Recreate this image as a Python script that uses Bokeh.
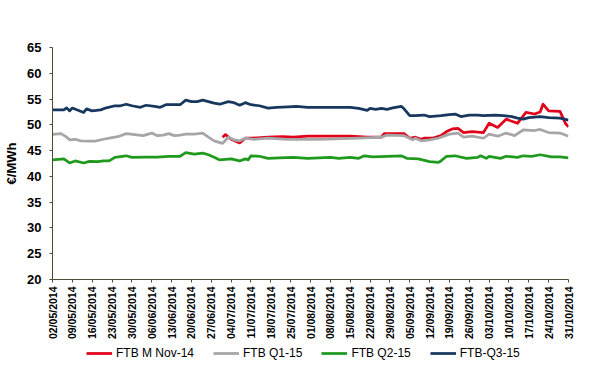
import math
from bokeh.plotting import figure
from bokeh.layouts import column
from bokeh.models import FixedTicker, Legend, LegendItem, Range1d
from bokeh.embed import file_html
from bokeh.resources import INLINE

# x values are days since 02/05/2014
tick_days = [0, 7, 14, 21, 28, 35, 42, 49, 56, 63, 70, 77, 84, 91, 98, 105, 112,
             119, 126, 133, 140, 147, 154, 161, 168, 175, 182]
tick_labels = ["02/05/2014", "09/05/2014", "16/05/2014", "23/05/2014", "30/05/2014",
               "06/06/2014", "13/06/2014", "20/06/2014", "27/06/2014", "04/07/2014",
               "11/07/2014", "18/07/2014", "25/07/2014", "01/08/2014", "08/08/2014",
               "15/08/2014", "22/08/2014", "29/08/2014", "05/09/2014", "12/09/2014",
               "19/09/2014", "26/09/2014", "03/10/2014", "10/10/2014", "17/10/2014",
               "24/10/2014", "31/10/2014"]

m_nov14_days = [60, 61, 63, 66, 68, 70, 76, 81, 85, 90, 94, 105, 111, 116, 117, 124,
                126, 128, 130, 131, 134, 137, 139, 141, 143, 145, 148, 152, 154, 157,
                160, 163, 164, 167, 170, 172, 173, 175, 179, 181, 182]
m_nov14_vals = [47.6, 48.1, 47.2, 46.5, 47.4, 47.4, 47.6, 47.7, 47.6, 47.8, 47.8, 47.8,
                47.6, 47.6, 48.3, 48.3, 47.4, 47.6, 47.2, 47.4, 47.4, 47.9, 48.7, 49.2,
                49.3, 48.5, 48.7, 48.5, 50.3, 49.5, 51.1, 50.5, 50.3, 52.4, 52.1, 52.5,
                54.0, 52.7, 52.6, 50.2, 49.6]

q1_15_days = [0, 3, 5, 6, 8, 10, 13, 15, 18, 21, 23, 26, 29, 32, 35, 37, 39, 41, 43, 45,
              47, 50, 53, 55, 57, 60, 62, 64, 66, 68, 71, 76, 83, 90, 94, 108, 116, 118,
              124, 127, 128, 130, 133, 136, 140, 143, 145, 148, 152, 154, 157, 160, 163,
              166, 170, 172, 175, 179, 182]
q1_15_vals = [48.15, 48.3, 47.6, 47.1, 47.2, 46.9, 46.85, 46.85, 47.2, 47.5, 47.7, 48.3,
              48.1, 47.9, 48.4, 47.9, 48.0, 48.3, 47.9, 48.0, 48.2, 48.2, 48.4, 47.6, 46.9,
              46.4, 47.6, 47.1, 46.9, 47.4, 47.2, 47.4, 47.2, 47.2, 47.2, 47.4, 47.6, 48.0,
              47.9, 47.1, 47.4, 46.9, 47.1, 47.4, 48.2, 48.4, 47.6, 47.8, 47.4, 48.2, 47.8,
              48.4, 47.9, 49.0, 48.9, 49.1, 48.5, 48.4, 47.8]

q2_15_days = [0, 4, 6, 8, 11, 13, 16, 18, 20, 22, 26, 28, 33, 37, 41, 45, 47, 50, 53, 55,
              57, 59, 63, 66, 68, 69, 70, 73, 76, 80, 85, 90, 94, 98, 101, 105, 108, 110,
              113, 118, 123, 125, 129, 133, 136, 137, 139, 142, 146, 150, 151, 153, 154,
              158, 160, 164, 166, 169, 172, 176, 179, 182]
q2_15_vals = [43.2, 43.4, 42.6, 43.0, 42.6, 42.9, 42.85, 43.0, 43.0, 43.7, 44.0, 43.7,
              43.75, 43.75, 43.9, 43.9, 44.6, 44.3, 44.5, 44.2, 43.7, 43.2, 43.4, 43.0,
              43.4, 43.2, 44.0, 43.9, 43.5, 43.6, 43.7, 43.5, 43.6, 43.7, 43.5, 43.7, 43.5,
              44.0, 43.8, 43.9, 44.0, 43.5, 43.4, 42.85, 42.7, 43.0, 43.9, 44.0, 43.5, 43.7,
              44.0, 43.5, 43.9, 43.5, 43.9, 43.7, 44.0, 43.9, 44.2, 43.8, 43.8, 43.6]

q3_15_days = [0, 4, 5, 6, 7, 11, 12, 14, 17, 19, 22, 24, 26, 28, 31, 33, 36, 38, 40, 45,
              47, 49, 51, 53, 57, 59, 62, 64, 66, 68, 70, 73, 76, 79, 83, 86, 90, 94, 105,
              108, 111, 112, 114, 116, 118, 120, 123, 124, 126, 128, 131, 133, 137, 140,
              142, 144, 147, 150, 152, 156, 159, 162, 164, 166, 168, 172, 175, 179, 182]
q3_15_vals = [52.9, 52.9, 53.3, 52.7, 53.25, 52.4, 53.1, 52.7, 52.9, 53.3, 53.7, 53.7,
              54.0, 53.7, 53.4, 53.8, 53.6, 53.4, 53.9, 53.9, 54.8, 54.5, 54.5, 54.8, 54.2,
              54.0, 54.5, 54.3, 53.8, 54.3, 53.9, 53.7, 53.25, 53.4, 53.5, 53.6, 53.4, 53.4,
              53.4, 53.2, 52.8, 53.2, 53.0, 53.2, 53.0, 53.3, 53.6, 53.1, 51.8, 51.8, 51.9,
              51.6, 51.8, 52.0, 52.1, 51.6, 51.9, 51.9, 51.8, 51.9, 51.8, 51.6, 51.3, 51.1,
              51.4, 51.6, 51.4, 51.3, 50.9]

series_names = ["FTB M Nov-14", "FTB Q1-15", "FTB Q2-15", "FTB-Q3-15"]
series_colors = ["#E2001A", "#A6A6A6", "#1F9A1F", "#17375E"]
series_data = [(m_nov14_days, m_nov14_vals), (q1_15_days, q1_15_vals),
               (q2_15_days, q2_15_vals), (q3_15_days, q3_15_vals)]

y_ticks = [20, 25, 30, 35, 40, 45, 50, 55, 60, 65]

FONT = "Liberation Sans"
AXIS_COLOR = "#4D4A35"
LINE_W = 2.75

# ---------------- main chart ----------------
p = figure(frame_width=516, frame_height=232,
           min_border_left=52, min_border_right=32, min_border_top=47, min_border_bottom=61,
           x_range=Range1d(tick_days[0], tick_days[-1]), y_range=Range1d(20, 65),
           output_backend="svg", toolbar_location=None)
p.outline_line_color = None
p.xgrid.grid_line_color = None
p.ygrid.grid_line_color = None
p.background_fill_color = "white"
p.border_fill_color = "white"

for (d, v), c in zip(series_data, series_colors):
    p.line(d, v, line_color=c, line_width=LINE_W, line_join="round")

ya = p.yaxis[0]
ya.ticker = FixedTicker(ticks=y_ticks)
ya.axis_line_color = AXIS_COLOR
ya.major_tick_line_color = AXIS_COLOR
ya.major_tick_in = 0
ya.major_tick_out = 3
ya.minor_tick_line_color = None
ya.major_label_text_font = FONT
ya.major_label_text_font_style = "bold"
ya.major_label_text_font_size = "13px"
ya.major_label_text_color = "black"
ya.major_label_standoff = 8
ya.axis_label = "€/MWh"
ya.axis_label_text_font = FONT
ya.axis_label_text_font_style = "bold"
ya.axis_label_text_font_size = "13px"
ya.axis_label_text_color = "black"
ya.axis_label_standoff = 5

xa = p.xaxis[0]
xa.ticker = FixedTicker(ticks=tick_days)
xa.major_label_overrides = {d: lab for d, lab in zip(tick_days, tick_labels)}
xa.major_label_orientation = math.pi / 2
xa.axis_line_color = AXIS_COLOR
xa.major_tick_line_color = AXIS_COLOR
xa.major_tick_in = 0
xa.major_tick_out = 3
xa.minor_tick_line_color = None
xa.major_label_text_font = FONT
xa.major_label_text_font_style = "bold"
xa.major_label_text_font_size = "10.5px"
xa.major_label_text_color = "black"
xa.major_label_standoff = 4

# ---------------- legend strip (frame aligned with the chart's frame) ----------------
leg = figure(width=600, height=32, min_border=0,
             x_range=Range1d(0, 1), y_range=Range1d(0, 1),
             x_axis_type=None, y_axis_type=None,
             output_backend="svg", toolbar_location=None)
leg.outline_line_color = None
leg.xgrid.grid_line_color = None
leg.ygrid.grid_line_color = None
leg.background_fill_color = "white"
leg.border_fill_color = "white"

# one-point lines (draw nothing themselves) that carry each series' style for the legend
legend_renderers = [leg.line(d[:1], v[:1], line_color=c, line_width=LINE_W)
                    for (d, v), c in zip(series_data, series_colors)]

legend = Legend(items=[LegendItem(label=n, renderers=[r]) for n, r in zip(series_names, legend_renderers)],
                location=(34, 14), orientation="horizontal",
                glyph_width=26, glyph_height=12, label_height=12, label_standoff=4,
                spacing=19, padding=0, margin=0,
                label_text_font=FONT, label_text_font_size="12px", label_text_color="black",
                background_fill_alpha=0, border_line_alpha=0)
leg.add_layout(legend, "center")

layout = column(p, leg, spacing=0)
open("out.html", "w").write(file_html(layout, INLINE))
